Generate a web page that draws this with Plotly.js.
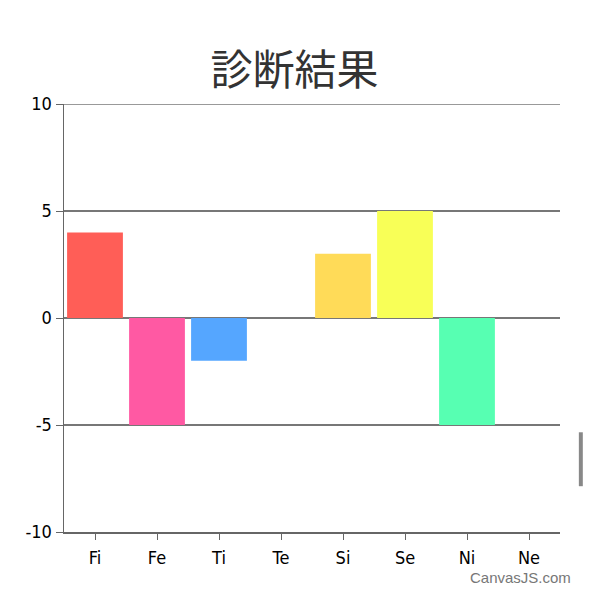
<!DOCTYPE html>
<html>
<head>
<meta charset="utf-8">
<script src="https://cdn.plot.ly/plotly-3.0.1.min.js"></script>
<style>html,body{margin:0;padding:0;background:#fff;}#chart{width:589px;height:601px;}</style>
</head>
<body>
<div id="chart"></div>
<script>
const categories = ["Fi", "Fe", "Ti", "Te", "Si", "Se", "Ni", "Ne"];
const values = [4, -5, -2, 0, 3, 5, -5, 0];
const barColors = ["#FF5E57", "#FF59A3", "#55A6FF", "#C6C6C6", "#FFDB58", "#F8FF57", "#57FFB2", "#C6C6C6"];
const yTicks = [-10, -5, 0, 5, 10];
const yTickText = ["-10", "-5", "0", "5", "10"];
const titleText = "診断結果";

const trace = {
  type: "bar",
  x: categories,
  y: values,
  width: 0.9,
  marker: { color: barColors, line: { width: 0 } },
  hoverinfo: "x+y"
};

const layout = {
  width: 589,
  height: 601,
  margin: { l: 64, r: 29, t: 104, b: 69 },
  paper_bgcolor: "#ffffff",
  plot_bgcolor: "#ffffff",
  showlegend: false,
  title: {
    text: titleText,
    font: { family: "Noto Sans CJK JP, sans-serif", size: 42, color: "#333333" },
    x: 0.5, xanchor: "center",
    y: 0.883, yanchor: "middle"
  },
  xaxis: {
    type: "category",
    range: [-0.5, 7.5],
    showgrid: false,
    showline: true,
    linecolor: "#666666",
    linewidth: 1.5,
    ticks: "outside",
    ticklen: 6,
    tickcolor: "#666666",
    ticklabelstandoff: 3,
    tickfont: { family: "DejaVu Sans Condensed, DejaVu Sans, sans-serif", size: 18, color: "#000000" },
    fixedrange: true
  },
  yaxis: {
    range: [-10, 10],
    tickvals: yTicks,
    ticktext: yTickText,
    showgrid: true,
    gridcolor: "#777777",
    gridwidth: 1.3,
    zeroline: true,
    zerolinecolor: "#777777",
    zerolinewidth: 1.3,
    showline: true,
    linecolor: "#666666",
    linewidth: 1.5,
    ticks: "outside",
    ticklen: 7,
    tickcolor: "#666666",
    tickfont: { family: "DejaVu Sans Condensed, DejaVu Sans, sans-serif", size: 18, color: "#000000" },
    fixedrange: true
  },
  shapes: [
    {
      type: "line", xref: "paper", yref: "y",
      x0: 0, x1: 1, y0: yTicks[yTicks.length - 1], y1: yTicks[yTicks.length - 1],
      line: { color: "#777777", width: 1.3 }
    },
    {
      type: "rect", xref: "paper", yref: "paper",
      x0: 1.038, x1: 1.046, y0: 0.107, y1: 0.233,
      fillcolor: "#888888", line: { width: 0 }
    }
  ],
  annotations: [
    {
      text: "CanvasJS.com", xref: "paper", yref: "paper",
      x: 1.026, y: -0.106, xanchor: "right", yanchor: "middle",
      showarrow: false,
      font: { family: "Liberation Sans, Arial, sans-serif", size: 15, color: "#777777" }
    }
  ]
};

Plotly.newPlot("chart", [trace], layout, { displayModeBar: false, staticPlot: true });
</script>
</body>
</html>
